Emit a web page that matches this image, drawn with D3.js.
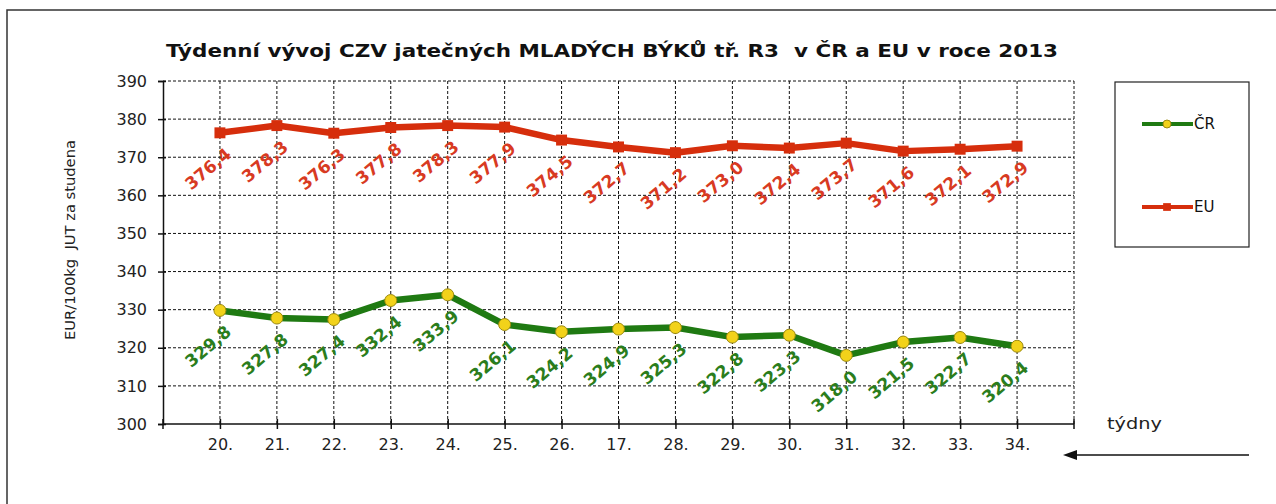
<!DOCTYPE html>
<html>
<head>
<meta charset="utf-8">
<script src="https://cdn.jsdelivr.net/npm/d3@7"></script>
<style>
    body { margin: 0; background: #fff; }
    svg text { font-family: "DejaVu Sans", Verdana, sans-serif; white-space: pre; }
</style>
</head>
<body>
<svg id="chart" width="1276" height="504"></svg>
<script>
// weeks (the "17." is what the source chart shows)
var weeks = ["20.", "21.", "22.", "23.", "24.", "25.", "26.", "17.", "28.", "29.", "30.", "31.", "32.", "33.", "34."];
var crValues = [329.8, 327.8, 327.4, 332.4, 333.9, 326.1, 324.2, 324.9, 325.3, 322.8, 323.3, 318.0, 321.5, 322.7, 320.4];
var euValues = [376.4, 378.3, 376.3, 377.8, 378.3, 377.9, 374.5, 372.7, 371.2, 373.0, 372.4, 373.7, 371.6, 372.1, 372.9];
var yTicks = [300, 310, 320, 330, 340, 350, 360, 370, 380, 390];

var svg = d3.select("svg#chart");
var margin = { top: 81, left: 163, right: 202, bottom: 80 };
var plotWidth = 1276 - margin.left - margin.right;
var plotHeight = 504 - margin.top - margin.bottom;

var series = [
    { name: "ČR", values: crValues, line: "#1f7a12", label: "#2b7d1c", marker: "circle" },
    { name: "EU", values: euValues, line: "#d62e0c", label: "#d83a22", marker: "square" }
];

// outer frame
svg.append("path")
    .attr("d", "M7,504 V10 H1276")
    .attr("fill", "none")
    .attr("stroke", "#333")
    .attr("stroke-width", 1.5);

svg.append("text")
    .attr("x", 612)
    .attr("y", 57)
    .attr("text-anchor", "middle")
    .attr("textLength", 892)
    .attr("lengthAdjust", "spacingAndGlyphs")
    .style("font-size", "18px")
    .style("font-weight", "bold")
    .style("fill", "#111")
    .text("Týdenní vývoj CZV jatečných MLADÝCH BÝKŮ tř. R3  v ČR a EU v roce 2013");

var plot = svg.append("g")
    .attr("transform", "translate(" + margin.left + "," + margin.top + ")");

var x = d3.scalePoint()
    .domain(weeks)
    .range([0, plotWidth])
    .padding(1);

var y = d3.scaleLinear()
    .domain([300, 390])
    .range([plotHeight, 0]);

// grid
var grid = plot.append("g").attr("class", "grid");
grid.selectAll("line.h")
    .data(yTicks.slice(1))
    .enter()
    .append("line")
    .attr("class", "h")
    .attr("x1", 0)
    .attr("x2", plotWidth)
    .attr("y1", d => y(d))
    .attr("y2", d => y(d));
grid.selectAll("line.v")
    .data(weeks)
    .enter()
    .append("line")
    .attr("class", "v")
    .attr("x1", d => x(d))
    .attr("x2", d => x(d))
    .attr("y1", 0)
    .attr("y2", plotHeight);
grid.append("line")
    .attr("x1", plotWidth)
    .attr("x2", plotWidth)
    .attr("y1", 0)
    .attr("y2", plotHeight);
grid.selectAll("line")
    .attr("stroke", "#111")
    .attr("stroke-width", 1)
    .attr("stroke-dasharray", "3,2");

// axes
var yAxis = d3.axisLeft(y).tickValues(yTicks).tickSize(5).tickPadding(11);
var yGroup = plot.append("g").call(yAxis);
yGroup.select(".domain").attr("stroke", "#111").attr("stroke-width", 1.5);
yGroup.selectAll(".tick line").attr("x1", 3).attr("stroke", "#111").attr("stroke-width", 1.5);
yGroup.selectAll(".tick text")
    .style("font-size", "16px")
    .style("fill", "#222")
    .attr("font-family", null);

var xAxis = d3.axisBottom(x).tickSize(5).tickPadding(10);
var xGroup = plot.append("g")
    .attr("transform", "translate(0," + plotHeight + ")")
    .call(xAxis);
xGroup.select(".domain").attr("d", "M0,0H" + plotWidth).attr("stroke", "#111").attr("stroke-width", 1.5);
xGroup.selectAll(".tick line").attr("y1", -5).attr("stroke", "#111").attr("stroke-width", 1.5);
xGroup.selectAll(".tick text")
    .style("font-size", "16px")
    .style("fill", "#222")
    .attr("font-family", null);
[0, plotWidth].forEach(function (px) {
    xGroup.append("line")
        .attr("x1", px).attr("x2", px)
        .attr("y1", -5).attr("y2", 5)
        .attr("stroke", "#111").attr("stroke-width", 1.5);
});

// lines, markers, value labels
var line = d3.line()
    .x((d, i) => x(weeks[i]))
    .y(d => y(d));

series.forEach(function (s) {
    var g = plot.append("g");
    g.append("path")
        .datum(s.values)
        .attr("d", line)
        .attr("fill", "none")
        .attr("stroke", s.line)
        .attr("stroke-width", 6.5)
        .attr("stroke-linejoin", "round");

    if (s.marker === "circle") {
        g.selectAll("circle")
            .data(s.values)
            .enter()
            .append("circle")
            .attr("cx", (d, i) => x(weeks[i]))
            .attr("cy", d => y(d))
            .attr("r", 6)
            .attr("fill", "#f2d21a")
            .attr("stroke", "#9c8a10")
            .attr("stroke-width", 1);
    } else {
        g.selectAll("path.mk")
            .data(s.values)
            .enter()
            .append("path")
            .attr("class", "mk")
            .attr("d", d3.symbol().type(d3.symbolSquare).size(120))
            .attr("transform", (d, i) => "translate(" + x(weeks[i]) + "," + y(d) + ")")
            .attr("fill", s.line);
    }

    g.selectAll("text")
        .data(s.values)
        .enter()
        .append("text")
        .attr("transform", (d, i) =>
            "translate(" + (x(weeks[i]) - 12) + "," + (y(d) + 36) + ") rotate(-40)")
        .attr("text-anchor", "middle")
        .attr("dy", "0.35em")
        .style("font-size", "17px")
        .style("font-weight", "bold")
        .style("fill", s.label)
        .text(d => d.toFixed(1).replace(".", ","));
});

// y axis title
svg.append("text")
    .attr("transform", "translate(75,240) rotate(-90)")
    .attr("text-anchor", "middle")
    .attr("textLength", 200)
    .attr("lengthAdjust", "spacingAndGlyphs")
    .style("font-size", "14px")
    .style("fill", "#222")
    .text("EUR/100kg  JUT za studena");

// legend
var legend = svg.append("g");
legend.append("rect")
    .attr("x", 1115)
    .attr("y", 82)
    .attr("width", 134)
    .attr("height", 165)
    .attr("fill", "#fff")
    .attr("stroke", "#222")
    .attr("stroke-width", 1.2);
var legendY = d3.scalePoint().domain(series.map(s => s.name)).range([124, 207]);
series.forEach(function (s) {
    var ly = legendY(s.name);
    legend.append("line")
        .attr("x1", 1142).attr("x2", 1193)
        .attr("y1", ly).attr("y2", ly)
        .attr("stroke", s.line)
        .attr("stroke-width", 4);
    if (s.marker === "circle") {
        legend.append("circle")
            .attr("cx", 1167).attr("cy", ly).attr("r", 4)
            .attr("fill", "#f2d21a").attr("stroke", "#9c8a10");
    } else {
        legend.append("path")
            .attr("d", d3.symbol().type(d3.symbolSquare).size(60))
            .attr("transform", "translate(1167," + ly + ")")
            .attr("fill", s.line);
    }
    legend.append("text")
        .attr("x", 1194)
        .attr("y", ly)
        .attr("dy", "0.36em")
        .style("font-size", "15px")
        .style("fill", "#111")
        .text(s.name);
});

// x axis caption and arrow
svg.append("text")
    .attr("x", 1107)
    .attr("y", 429)
    .attr("textLength", 55)
    .attr("lengthAdjust", "spacingAndGlyphs")
    .style("font-size", "16px")
    .style("fill", "#222")
    .text("týdny");
svg.append("line")
    .attr("x1", 1249).attr("x2", 1072)
    .attr("y1", 455).attr("y2", 455)
    .attr("stroke", "#111")
    .attr("stroke-width", 1.5);
svg.append("path")
    .attr("d", "M1063,455 L1077,450 L1077,460 Z")
    .attr("fill", "#111");
</script>
</body>
</html>
